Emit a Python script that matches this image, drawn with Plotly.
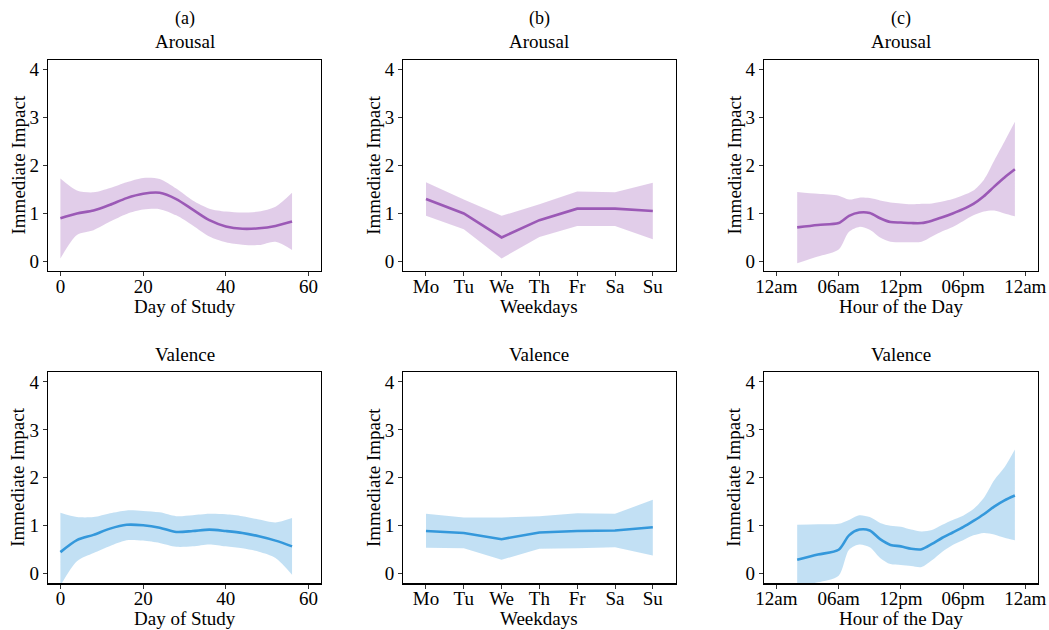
import plotly.graph_objects as go

# ---------------- data ----------------
days = [0, 4, 8, 12, 16, 20, 24, 28, 32, 36, 40, 44, 48, 52, 56]
day_ar_mean = [0.90, 1.00, 1.06, 1.18, 1.32, 1.41, 1.43, 1.30, 1.08, 0.86, 0.73, 0.68, 0.69, 0.74, 0.83]
day_ar_up = [1.73, 1.48, 1.44, 1.53, 1.65, 1.74, 1.72, 1.52, 1.27, 1.10, 1.04, 1.02, 1.04, 1.14, 1.43]
day_ar_lo = [0.06, 0.55, 0.65, 0.83, 0.99, 1.08, 1.09, 0.96, 0.75, 0.52, 0.40, 0.35, 0.34, 0.41, 0.24]
day_va_mean = [0.45, 0.70, 0.81, 0.94, 1.02, 1.01, 0.96, 0.87, 0.89, 0.92, 0.89, 0.85, 0.78, 0.69, 0.57]
day_va_up = [1.27, 1.18, 1.18, 1.26, 1.32, 1.31, 1.28, 1.20, 1.22, 1.25, 1.24, 1.20, 1.13, 1.07, 1.16]
day_va_lo = [-0.25, 0.26, 0.43, 0.58, 0.70, 0.69, 0.64, 0.56, 0.57, 0.61, 0.57, 0.53, 0.46, 0.33, -0.02]

weekdays = ["Mo", "Tu", "We", "Th", "Fr", "Sa", "Su"]
wk_ar_mean = [1.30, 1.00, 0.50, 0.86, 1.10, 1.10, 1.05]
wk_ar_up = [1.65, 1.29, 0.95, 1.19, 1.46, 1.44, 1.64]
wk_ar_lo = [0.95, 0.67, 0.06, 0.51, 0.74, 0.74, 0.46]
wk_va_mean = [0.89, 0.85, 0.72, 0.86, 0.89, 0.90, 0.97]
wk_va_up = [1.25, 1.17, 1.17, 1.20, 1.26, 1.25, 1.54]
wk_va_lo = [0.54, 0.53, 0.29, 0.52, 0.53, 0.55, 0.38]

hours = [2, 4, 6, 7, 8, 9, 10, 11, 12, 13, 14, 15, 16, 17, 18, 19, 20, 21, 22, 23]
hr_ar_mean = [0.71, 0.76, 0.80, 0.95, 1.02, 1.01, 0.90, 0.82, 0.81, 0.80, 0.80, 0.85, 0.92, 1.00, 1.09, 1.20, 1.36, 1.56, 1.75, 1.92]
hr_ar_up = [1.45, 1.41, 1.37, 1.29, 1.33, 1.32, 1.27, 1.23, 1.21, 1.19, 1.20, 1.21, 1.25, 1.30, 1.38, 1.48, 1.70, 2.10, 2.50, 2.91]
hr_ar_lo = [-0.04, 0.10, 0.25, 0.62, 0.72, 0.66, 0.50, 0.41, 0.40, 0.40, 0.41, 0.52, 0.63, 0.72, 0.84, 0.96, 1.04, 1.06, 1.00, 0.94]
hr_va_mean = [0.29, 0.40, 0.50, 0.80, 0.92, 0.90, 0.72, 0.60, 0.57, 0.52, 0.51, 0.62, 0.75, 0.86, 0.97, 1.10, 1.24, 1.40, 1.53, 1.63]
hr_va_up = [1.02, 1.03, 1.04, 1.12, 1.22, 1.18, 1.06, 1.00, 0.98, 0.92, 0.88, 0.91, 1.02, 1.12, 1.21, 1.35, 1.58, 1.95, 2.22, 2.59]
hr_va_lo = [-0.26, -0.18, -0.04, 0.50, 0.61, 0.55, 0.33, 0.20, 0.18, 0.16, 0.14, 0.28, 0.46, 0.60, 0.70, 0.80, 0.85, 0.82, 0.75, 0.70]

hour_tickvals = [0, 6, 12, 18, 24]
hour_ticktext = ["12am", "06am", "12pm", "06pm", "12am"]
day_tickvals = [0, 20, 40, 60]
y_tickvals = [0, 1, 2, 3, 4]

panel_letters = ["(a)", "(b)", "(c)"]
row_titles = ["Arousal", "Valence"]
x_titles = ["Day of Study", "Weekdays", "Hour of the Day"]
y_title = "Immediate Impact"

# ---------------- style ----------------
W, H = 1049, 630
FONT = "Liberation Serif, Times New Roman, serif"
FS = 19
PURPLE = "#9B59B6"
PURPLE_FILL = "rgba(155,89,182,0.30)"
BLUE = "#3498DB"
BLUE_FILL = "rgba(52,152,219,0.30)"

# target panel boxes in window pixels
col_px = [(48, 321), (403.3, 675.5), (764, 1037.7)]
row_px = [(60, 271), (372.3, 583.3)]

def px_x(p):
    return p / W

def px_y(p):
    return 1 - p / H

fig = go.Figure()

panels = [
    (0, 0, days, day_ar_mean, day_ar_up, day_ar_lo, PURPLE, PURPLE_FILL, "spline"),
    (0, 1, weekdays, wk_ar_mean, wk_ar_up, wk_ar_lo, PURPLE, PURPLE_FILL, "linear"),
    (0, 2, hours, hr_ar_mean, hr_ar_up, hr_ar_lo, PURPLE, PURPLE_FILL, "spline"),
    (1, 0, days, day_va_mean, day_va_up, day_va_lo, BLUE, BLUE_FILL, "spline"),
    (1, 1, weekdays, wk_va_mean, wk_va_up, wk_va_lo, BLUE, BLUE_FILL, "linear"),
    (1, 2, hours, hr_va_mean, hr_va_up, hr_va_lo, BLUE, BLUE_FILL, "spline"),
]

annotations = []
for i, (r, c, xs, mean, up, lo, lc, fc, shape) in enumerate(panels):
    idx = i + 1
    xa = "x" if idx == 1 else f"x{idx}"
    ya = "y" if idx == 1 else f"y{idx}"
    line_kw = dict(shape=shape, smoothing=0.8) if shape == "spline" else dict(shape=shape)
    fig.add_trace(go.Scatter(x=xs, y=lo, mode="lines", line=dict(width=0, color=fc, **line_kw),
                             xaxis=xa, yaxis=ya, showlegend=False, hoverinfo="skip"))
    fig.add_trace(go.Scatter(x=xs, y=up, mode="lines", line=dict(width=0, color=fc, **line_kw),
                             fill="tonexty", fillcolor=fc,
                             xaxis=xa, yaxis=ya, showlegend=False, hoverinfo="skip"))
    fig.add_trace(go.Scatter(x=xs, y=mean, mode="lines", line=dict(width=2.6, color=lc, **line_kw),
                             xaxis=xa, yaxis=ya, showlegend=False))

    x0, x1 = col_px[c]
    y0, y1 = row_px[r]
    axis_common = dict(showline=True, mirror=True, linecolor="black", linewidth=1.3,
                       ticks="outside", ticklen=4, tickwidth=1, tickcolor="#333333",
                       showgrid=False, zeroline=False, automargin=False,
                       ticklabeloverflow="allow",
                       tickfont=dict(family=FONT, size=FS, color="black"))
    xkw = dict(axis_common, domain=[px_x(x0), px_x(x1)], anchor=ya, ticklabelstandoff=-6)
    if c == 0:
        xkw.update(range=[-3, 63], tickvals=day_tickvals)
    elif c == 1:
        xkw.update(type="category", range=[-0.6, 6.6], categoryorder="array", categoryarray=weekdays)
    else:
        xkw.update(range=[-1.2, 25.2], tickvals=hour_tickvals, ticktext=hour_ticktext)
    ykw = dict(axis_common, domain=[px_y(y1), px_y(y0)], anchor=xa,
               range=[-0.2, 4.2], tickvals=y_tickvals)
    fig.update_layout(**{("xaxis" if idx == 1 else f"xaxis{idx}"): xkw,
                         ("yaxis" if idx == 1 else f"yaxis{idx}"): ykw})

    xc = (x0 + x1) / 2
    annotations.append(dict(text=row_titles[r], x=px_x(xc), y=px_y(y0 - 18), xref="paper", yref="paper",
                            showarrow=False, xanchor="center", yanchor="middle",
                            font=dict(family=FONT, size=FS, color="black")))
    annotations.append(dict(text=x_titles[c], x=px_x(xc), y=px_y(y1 + 35), xref="paper", yref="paper",
                            showarrow=False, xanchor="center", yanchor="middle",
                            font=dict(family=FONT, size=FS, color="black")))
    annotations.append(dict(text=y_title, x=px_x(x0 - 30), y=px_y((y0 + y1) / 2), xref="paper", yref="paper",
                            showarrow=False, xanchor="center", yanchor="middle", textangle=-90,
                            font=dict(family=FONT, size=FS, color="black")))
    if r == 0:
        annotations.append(dict(text=panel_letters[c], x=px_x(xc), y=px_y(18), xref="paper", yref="paper",
                                showarrow=False, xanchor="center", yanchor="middle",
                                font=dict(family=FONT, size=FS - 1, color="black")))

fig.update_layout(template="none", width=W, height=H,
                  margin=dict(l=0, r=0, t=0, b=0, pad=0, autoexpand=False),
                  paper_bgcolor="white", plot_bgcolor="white",
                  annotations=annotations, showlegend=False, hovermode=False,
                  font=dict(family=FONT, size=FS, color="black"))

fig.write_html(
    "out.html",
    config={"displayModeBar": False, "staticPlot": True},
    post_script="document.body.style.margin='0';document.documentElement.style.overflow='hidden';",
)
